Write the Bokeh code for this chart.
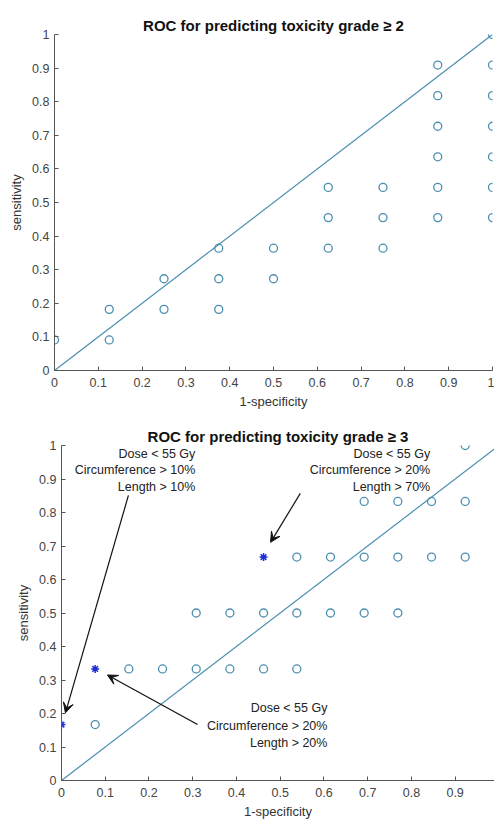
from bokeh.plotting import figure
from bokeh.layouts import column
from bokeh.models import Range1d, FixedTicker, NumeralTickFormatter, Arrow, VeeHead
from bokeh.embed import file_html
from bokeh.resources import INLINE
from bokeh.core.properties import value

# ---------------- data: grade >= 2 ----------------
g2_fpr = [0.0, 0.125, 0.125, 0.25, 0.25, 0.375, 0.375, 0.375, 0.5, 0.5,
          0.625, 0.625, 0.625, 0.75, 0.75, 0.75,
          0.875, 0.875, 0.875, 0.875, 0.875, 0.875,
          1.0, 1.0, 1.0, 1.0, 1.0, 1.0, 1.0]
g2_tpr = [0.091, 0.182, 0.091, 0.273, 0.182, 0.364, 0.273, 0.182, 0.364, 0.273,
          0.545, 0.455, 0.364, 0.545, 0.455, 0.364,
          0.909, 0.818, 0.727, 0.636, 0.545, 0.455,
          1.0, 0.909, 0.818, 0.727, 0.636, 0.545, 0.455]

# ---------------- data: grade >= 3 ----------------
g3_fpr = [0.077,
          0.154, 0.231, 0.308, 0.385, 0.462, 0.538,
          0.308, 0.385, 0.462, 0.538, 0.615, 0.692, 0.769,
          0.538, 0.615, 0.692, 0.769, 0.846, 0.923, 1.0,
          0.692, 0.769, 0.846, 0.923, 1.0,
          0.923]
g3_tpr = [0.167,
          0.333, 0.333, 0.333, 0.333, 0.333, 0.333,
          0.5, 0.5, 0.5, 0.5, 0.5, 0.5, 0.5,
          0.667, 0.667, 0.667, 0.667, 0.667, 0.667, 0.667,
          0.833, 0.833, 0.833, 0.833, 0.833,
          1.0]
star_fpr = [0.0, 0.077, 0.462]
star_tpr = [0.167, 0.333, 0.667]

diag = [0.0, 1.0]
ticks = [0.0, 0.1, 0.2, 0.3, 0.4, 0.5, 0.6, 0.7, 0.8, 0.9, 1.0]

notes = [
    ["Dose < 55 Gy", "Circumference > 10%", "Length > 10%"],
    ["Dose < 55 Gy", "Circumference > 20%", "Length > 70%"],
    ["Dose < 55 Gy", "Circumference > 20%", "Length > 20%"],
]
note_x = [0.306, 0.843, 0.608]
note_y = [[0.976, 0.926, 0.875], [0.976, 0.926, 0.877], [0.217, 0.164, 0.113]]
arrow_start = [(0.153, 0.851), (0.546, 0.857), (0.311, 0.167)]
arrow_end = [(0.009, 0.202), (0.478, 0.711), (0.105, 0.315)]

CIRC = "#4a8fb0"
STAR = "#1f2fd6"
AX = "#555555"
TXT = "#222222"
FONT = "Liberation Sans"


def make_fig(title, width, height, xend, bl, bt, bb, br):
    p = figure(width=width, height=height, output_backend="svg", toolbar_location=None,
               x_range=Range1d(0, xend), y_range=Range1d(0, 1),
               min_border_left=bl, min_border_top=bt, min_border_bottom=bb,
               min_border_right=br, title=title)
    p.frame_align = False
    p.title.align = "center"
    p.title.text_font = FONT
    p.title.text_font_size = "15px"
    p.title.text_font_style = "bold"
    p.title.text_color = "#111111"
    p.title.standoff = 2
    p.outline_line_color = None
    p.xgrid.visible = False
    p.ygrid.visible = False
    for ax in (p.xaxis[0], p.yaxis[0]):
        ax.ticker = FixedTicker(ticks=ticks)
        ax.formatter = NumeralTickFormatter(format="0.[0]")
        ax.major_tick_in = 4
        ax.major_tick_out = 0
        ax.minor_tick_line_color = None
        ax.axis_line_color = AX
        ax.major_tick_line_color = AX
        ax.major_label_text_color = "#444444"
        ax.major_label_text_font = FONT
        ax.major_label_text_font_size = "12.5px"
        ax.axis_label_text_font = FONT
        ax.axis_label_text_font_size = "13px"
        ax.axis_label_text_font_style = "normal"
        ax.axis_label_text_color = "#333333"
    p.xaxis.axis_label = "1-specificity"
    p.yaxis.axis_label = "sensitivity"
    p.xaxis.major_label_standoff = 7
    p.yaxis.major_label_standoff = 5
    p.xaxis.axis_label_standoff = 4
    p.yaxis.axis_label_standoff = 5
    p.line(diag, diag, line_color=CIRC, line_width=1.2)
    return p


p1 = make_fig("ROC for predicting toxicity grade \u2265 2", 494, 412, 1.0, 54, 34, 42, 2)
p1.scatter(g2_fpr, g2_tpr, marker="circle", size=8, fill_color=None,
           line_color=CIRC, line_width=1.3)

p2 = make_fig("ROC for predicting toxicity grade \u2265 3", 494, 409, 0.99, 61, 33, 40, 0)
p2.scatter(g3_fpr, g3_tpr, marker="circle", size=8, fill_color=None,
           line_color=CIRC, line_width=1.3)
p2.scatter(star_fpr, star_tpr, marker="asterisk", size=8, line_color=STAR, line_width=1.5)
p2.scatter(star_fpr, star_tpr, marker="circle", size=4, fill_color=STAR, line_color=None)

for lines, nx, ys in zip(notes, note_x, note_y):
    p2.text(x=[nx] * len(lines), y=ys, text=lines, text_align="right",
            text_baseline="middle", text_font=value(FONT), text_font_size="12.5px",
            text_color=TXT)

for (sx, sy), (ex, ey) in zip(arrow_start, arrow_end):
    p2.add_layout(Arrow(x_start=sx, y_start=sy, x_end=ex, y_end=ey,
                        line_color="#111111", line_width=1.2,
                        end=VeeHead(size=10, fill_color="#111111", line_color="#111111")))

layout = column(p1, p2, spacing=0)
open("out.html", "w").write(file_html(layout, INLINE))
